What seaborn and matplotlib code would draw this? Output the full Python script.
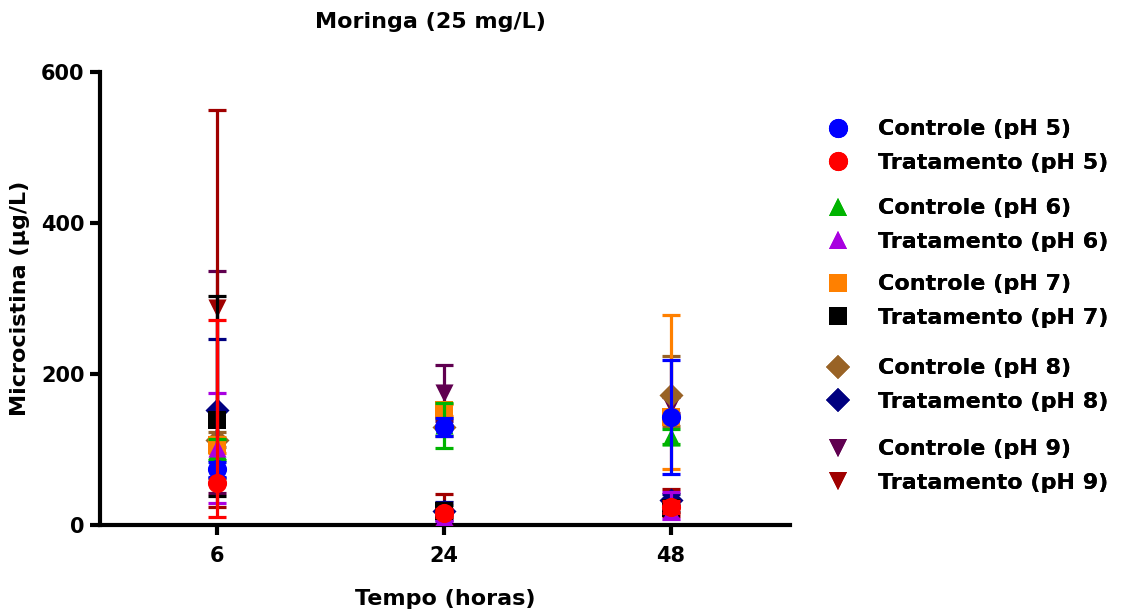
import matplotlib
matplotlib.use("Agg")
import matplotlib.pyplot as plt
from matplotlib.lines import Line2D
import seaborn as sns
import pandas as pd
import numpy as np

# ---- data ----
times = ["6", "24", "48"]
series_names = ["Controle (pH 5)", "Tratamento (pH 5)",
                "Controle (pH 6)", "Tratamento (pH 6)",
                "Controle (pH 7)", "Tratamento (pH 7)",
                "Controle (pH 8)", "Tratamento (pH 8)",
                "Controle (pH 9)", "Tratamento (pH 9)"]
colors = ["#0000FF", "#FF0000", "#00B400", "#A800E0", "#FF8000",
          "#000000", "#996326", "#000080", "#600050", "#A00000"]
markers = ["o", "o", "^", "^", "s", "s", "D", "D", "v", "v"]

ctrl5_mean = [74, 130, 143];  ctrl5_lo = [10, 12, 75];  ctrl5_hi = [10, 12, 75]
trat5_mean = [56, 16, 24];    trat5_lo = [45, 5, 8];    trat5_hi = [215, 5, 8]
ctrl6_mean = [100, 132, 117]; ctrl6_lo = [14, 30, 10];  ctrl6_hi = [14, 30, 10]
trat6_mean = [102, 10, 18];   trat6_lo = [73, 5, 10];   trat6_hi = [73, 5, 26]
ctrl7_mean = [106, 152, 143]; ctrl7_lo = [10, 8, 69];   ctrl7_hi = [10, 8, 135]
trat7_mean = [139, 18, 22];   trat7_lo = [100, 8, 5];   trat7_hi = [164, 8, 5]
ctrl8_mean = [113, 130, 172]; ctrl8_lo = [10, 12, 41];  ctrl8_hi = [10, 12, 52]
trat8_mean = [152, 18, 33];   trat8_lo = [90, 12, 8];   trat8_hi = [94, 12, 8]
ctrl9_mean = [140, 175, 159]; ctrl9_lo = [97, 37, 10];  ctrl9_hi = [196, 37, 10]
trat9_mean = [287, 20, 30];   trat9_lo = [263, 21, 18]; trat9_hi = [263, 21, 18]

means = [ctrl5_mean, trat5_mean, ctrl6_mean, trat6_mean, ctrl7_mean,
         trat7_mean, ctrl8_mean, trat8_mean, ctrl9_mean, trat9_mean]
los = [ctrl5_lo, trat5_lo, ctrl6_lo, trat6_lo, ctrl7_lo,
       trat7_lo, ctrl8_lo, trat8_lo, ctrl9_lo, trat9_lo]
his = [ctrl5_hi, trat5_hi, ctrl6_hi, trat6_hi, ctrl7_hi,
       trat7_hi, ctrl8_hi, trat8_hi, ctrl9_hi, trat9_hi]

sizes = {"o": 190, "^": 170, "v": 170, "s": 170, "D": 150}

sns.set_theme(style="ticks")
plt.rcParams['font.family'] = ['DejaVu Sans']
plt.rcParams['font.weight'] = 'bold'
for k in ["text.color", "axes.labelcolor", "xtick.color", "ytick.color", "axes.edgecolor"]:
    plt.rcParams[k] = "black"

fig = plt.figure(figsize=(11.33, 6.12), dpi=100)
ax = fig.add_axes([100/1133, 87/612, 690/1133, 453/612])

pos = np.arange(len(times))
draw_order = [8, 9, 6, 7, 4, 5, 2, 3, 0, 1]
z = 2
for i in draw_order:
    df = pd.DataFrame({"pos": pos, "val": means[i]})
    ax.errorbar(pos, means[i], yerr=[los[i], his[i]], fmt="none",
                ecolor=colors[i], elinewidth=2.3, capsize=6.5, capthick=2.3,
                zorder=z)
    sns.scatterplot(data=df, x="pos", y="val", ax=ax, color=colors[i],
                    marker=markers[i], s=sizes[markers[i]], linewidth=0,
                    legend=False, zorder=z + 0.5)
    z += 1

ax.set_xlim(-0.515, 2.525)
ax.set_ylim(0, 600)
ax.set_yticks([0, 200, 400, 600])
ax.set_xticks(pos)
ax.set_xticklabels(times)
for side in ["top", "right"]:
    ax.spines[side].set_visible(False)
for side in ["left", "bottom"]:
    ax.spines[side].set_linewidth(3)
    ax.spines[side].set_color("black")
ax.tick_params(axis="both", width=3, length=7, labelsize=15, color="black")
ax.tick_params(axis="y", pad=4)
ax.tick_params(axis="x", pad=8)
for lab in ax.get_xticklabels() + ax.get_yticklabels():
    lab.set_fontweight("bold")

ax.set_xlabel("Tempo (horas)", fontsize=16, fontweight="bold", labelpad=17)
ax.set_ylabel("Microcistina (µg/L)", fontsize=16, fontweight="bold", labelpad=8)
fig.text(430/1133, 1 - 22/612, "Moringa (25 mg/L)", ha="center", va="center",
         fontsize=16, fontweight="bold")

# legends in five groups
group_centers = [146, 225, 301, 385, 466]
for g, yc in enumerate(group_centers):
    handles = []
    for i in (2 * g, 2 * g + 1):
        handles.append(Line2D([], [], linestyle="none", marker=markers[i],
                              color=colors[i], markersize=np.sqrt(sizes[markers[i]]),
                              markeredgewidth=0))
    leg = fig.legend(handles, [series_names[2 * g], series_names[2 * g + 1]],
                     loc="center left", bbox_to_anchor=(816/1133, 1 - yc/612),
                     frameon=False, handlelength=1.0,
                     handletextpad=1.3, labelspacing=0.6, borderpad=0,
                     prop={"weight": "bold", "size": 16})
    fig.add_artist(leg)

fig.savefig("out.png", dpi=100)
